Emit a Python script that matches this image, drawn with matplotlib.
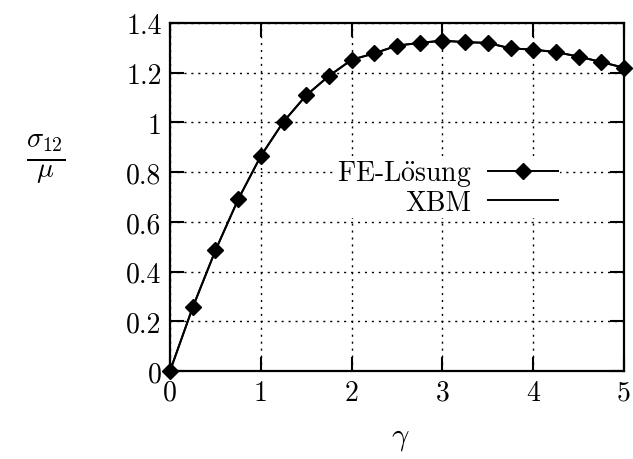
import matplotlib
matplotlib.use("Agg")
import matplotlib.pyplot as plt

plt.rcParams['font.family'] = ['cmr10', 'DejaVu Serif']
plt.rcParams['mathtext.fontset'] = 'cm'
plt.rcParams['axes.formatter.use_mathtext'] = True

# FE-Loesung (points) and XBM (curve)
gamma = [0, 0.25, 0.5, 0.75, 1.0, 1.25, 1.5, 1.75, 2.0, 2.25, 2.5,
         2.75, 3.0, 3.25, 3.5, 3.75, 4.0, 4.25, 4.5, 4.75, 5.0]
fe = [0, 0.256, 0.485, 0.69, 0.865, 1.003, 1.109, 1.187, 1.252, 1.278, 1.309,
      1.32, 1.329, 1.323, 1.32, 1.298, 1.293, 1.283, 1.265, 1.243, 1.22]
xbm = fe

xticks = [0, 1, 2, 3, 4, 5]
yticks = [0, 0.2, 0.4, 0.6, 0.8, 1, 1.2, 1.4]
ylabels = ['0', '0.2', '0.4', '0.6', '0.8', '1', '1.2', '1.4']

fig = plt.figure(figsize=(6.33, 4.6), dpi=100)
ax = fig.add_axes([0.2686, 0.1913, 0.7172, 0.7565])

ax.plot(gamma, fe, color='black', lw=1.4, marker='D', ms=8,
        label=r'FE-L$\ddot{\mathrm{o}}$sung', clip_on=False, zorder=4)
ax.plot(gamma, xbm, color='black', lw=1.4, label='XBM', zorder=3)

ax.set_xlim(0, 5)
ax.set_ylim(0, 1.4)
ax.set_xticks(xticks)
ax.set_xticklabels([str(t) for t in xticks])
ax.set_yticks(yticks)
ax.set_yticklabels(ylabels)
ax.tick_params(direction='in', length=10, width=1.5, top=True, right=True,
               labelsize=20, pad=6)
for s in ax.spines.values():
    s.set_linewidth(1.6)
ax.grid(True, color='black', linestyle=(0, (1.5, 3.5)), lw=1)

leg = ax.legend(loc='upper right', bbox_to_anchor=(0.86, 0.618), markerfirst=False,
                frameon=True, fancybox=False, fontsize=20, handlelength=2.5,
                handletextpad=0.6, labelspacing=0.0, borderpad=0.1, borderaxespad=0)
leg.get_frame().set_edgecolor('none')
leg.get_frame().set_facecolor('white')
leg.get_frame().set_alpha(1)
for t in leg.get_texts():
    t.set_ha('right')

fig.text(0.072, 0.652, r'$\frac{\sigma_{12}}{\mu}$', fontsize=29, ha='center', va='center')
fig.text(0.632, 0.045, r'$\gamma$', fontsize=22, ha='center', va='center')

fig.savefig('out.png', dpi=100)
